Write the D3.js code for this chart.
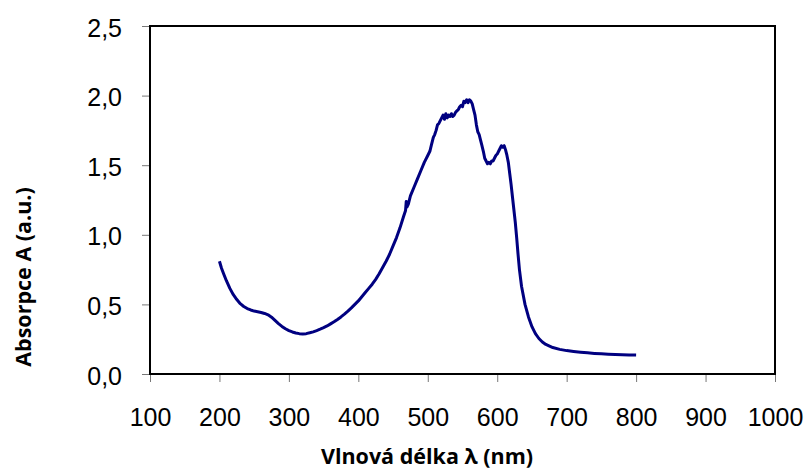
<!DOCTYPE html>
<html>
<head>
<meta charset="utf-8">
<script src="https://cdn.jsdelivr.net/npm/d3@7"></script>
<style>
    body { margin: 0; background: #fff; }
    .tick-label { font-family: "Liberation Sans", Arial, sans-serif; font-size: 25px; fill: #000; }
    .axis-title { font-family: "Open Sans", sans-serif; font-weight: bold; font-size: 21.5px; fill: #000; }
</style>
</head>
<body>
<svg id="chart"></svg>
<script>
// wavelength (nm) and absorbance
const wavelength = [
    200, 203, 206, 210, 215, 220, 225, 230, 235, 240, 245, 250, 255, 260, 265, 270, 275, 280, 285, 290,
    295, 300, 305, 310, 315, 320, 325, 330, 335, 340, 345, 350, 355, 360, 365, 370, 375, 380, 385, 390,
    395, 400, 405, 410, 415, 420, 425, 430, 435, 440, 445, 450, 455, 460, 465, 468, 469, 470, 472, 475,
    480, 485, 490, 495, 500, 503, 505, 508, 510, 512, 514, 516, 518, 520, 522, 524, 526, 528, 530, 532,
    534, 536, 538, 540, 542, 544, 546, 548, 550, 552, 554, 556, 558, 560, 562, 564, 566, 568, 570, 572,
    574, 576, 578, 580, 582, 584, 586, 588, 590, 592, 594, 596, 598, 600, 602, 604, 606, 608, 610, 612,
    614, 616, 618, 620, 622, 624, 626, 628, 630, 632, 635, 640, 645, 650, 655, 660, 665, 670, 680, 690,
    700, 710, 720, 730, 740, 750, 760, 770, 780, 790, 800
];
const absorbance = [
    0.81, 0.76, 0.72, 0.67, 0.615, 0.57, 0.535, 0.505, 0.485, 0.47, 0.46, 0.452, 0.447, 0.442, 0.435, 0.425, 0.408, 0.385, 0.362, 0.342,
    0.325, 0.312, 0.302, 0.295, 0.29, 0.288, 0.29, 0.296, 0.303, 0.312, 0.322, 0.333, 0.345, 0.36, 0.375, 0.392, 0.41, 0.43, 0.452, 0.475,
    0.5, 0.525, 0.555, 0.585, 0.615, 0.645, 0.68, 0.72, 0.765, 0.81, 0.86, 0.92, 0.98, 1.05, 1.13, 1.175, 1.24, 1.2, 1.22, 1.28,
    1.34, 1.4, 1.46, 1.52, 1.57, 1.6, 1.64, 1.7, 1.72, 1.75, 1.79, 1.8, 1.82, 1.84, 1.86, 1.83, 1.87, 1.84, 1.86, 1.85,
    1.87, 1.85, 1.86, 1.88, 1.89, 1.9, 1.92, 1.93, 1.92, 1.96, 1.95, 1.97, 1.95, 1.97, 1.96, 1.94, 1.9, 1.86, 1.79, 1.74,
    1.72, 1.68, 1.64, 1.6, 1.55, 1.53, 1.51, 1.52, 1.51, 1.53, 1.53, 1.55, 1.57, 1.58, 1.6, 1.62, 1.64, 1.63, 1.64, 1.61,
    1.57, 1.52, 1.44, 1.36, 1.27, 1.18, 1.09, 0.98, 0.86, 0.75, 0.63, 0.5, 0.41, 0.34, 0.29, 0.255, 0.23, 0.212, 0.19, 0.177,
    0.168, 0.162, 0.157, 0.152, 0.148, 0.145, 0.142, 0.14, 0.138, 0.137, 0.136
];

const xTicks = [100, 200, 300, 400, 500, 600, 700, 800, 900, 1000];
const yTicks = [0, 0.5, 1.0, 1.5, 2.0, 2.5];

const width = 810;
const height = 470;
const margin = { top: 26, right: 35, bottom: 96, left: 150 };
const boundedWidth = width - margin.left - margin.right;
const boundedHeight = height - margin.top - margin.bottom;

const data = wavelength.map((w, i) => ({ x: w, y: absorbance[i] }));

const svg = d3.select('#chart')
    .attr('width', width)
    .attr('height', height);

const bounds = svg.append('g')
    .attr('transform', `translate(${margin.left}, ${margin.top})`);

// scales
const xScale = d3.scaleLinear()
    .domain([100, 1000])
    .range([0, boundedWidth]);

const yScale = d3.scaleLinear()
    .domain([0, 2.5])
    .range([boundedHeight, 0]);

// axes with outside ticks
const xAxis = d3.axisBottom(xScale)
    .tickValues(xTicks)
    .tickSize(8)
    .tickPadding(26)
    .tickFormat(d3.format('d'));

const yAxis = d3.axisLeft(yScale)
    .tickValues(yTicks)
    .tickSize(8)
    .tickPadding(20)
    .tickFormat(d => d3.format('.1f')(d).replace('.', ','));

const xAxisG = bounds.append('g')
    .attr('transform', `translate(0, ${boundedHeight})`)
    .call(xAxis);

const yAxisG = bounds.append('g')
    .call(yAxis);

[xAxisG, yAxisG].forEach(g => {
    g.select('.domain').remove();
    g.selectAll('.tick line').attr('stroke', '#777').attr('stroke-width', 1);
    g.selectAll('.tick text').attr('class', 'tick-label').attr('font-size', null).attr('font-family', null);
});
xAxisG.selectAll('.tick text').attr('dy', '0.71em');
yAxisG.selectAll('.tick text').attr('dy', '0.4em');

// plot frame
bounds.append('rect')
    .attr('x', 0)
    .attr('y', 0)
    .attr('width', boundedWidth)
    .attr('height', boundedHeight)
    .attr('fill', 'none')
    .attr('stroke', '#000')
    .attr('stroke-width', 2);

// spectrum
const line = d3.line()
    .x(d => xScale(d.x))
    .y(d => yScale(d.y));

bounds.append('path')
    .datum(data)
    .attr('d', line)
    .attr('fill', 'none')
    .attr('stroke', '#000080')
    .attr('stroke-width', 3)
    .attr('stroke-linejoin', 'round');

// axis titles
svg.append('text')
    .attr('class', 'axis-title')
    .attr('x', 427)
    .attr('y', 464)
    .attr('text-anchor', 'middle')
    .text('Vlnová délka λ (nm)');

svg.append('text')
    .attr('class', 'axis-title')
    .attr('transform', 'translate(31, 277) rotate(-90)')
    .attr('text-anchor', 'middle')
    .text('Absorpce A (a.u.)');
</script>
</body>
</html>
